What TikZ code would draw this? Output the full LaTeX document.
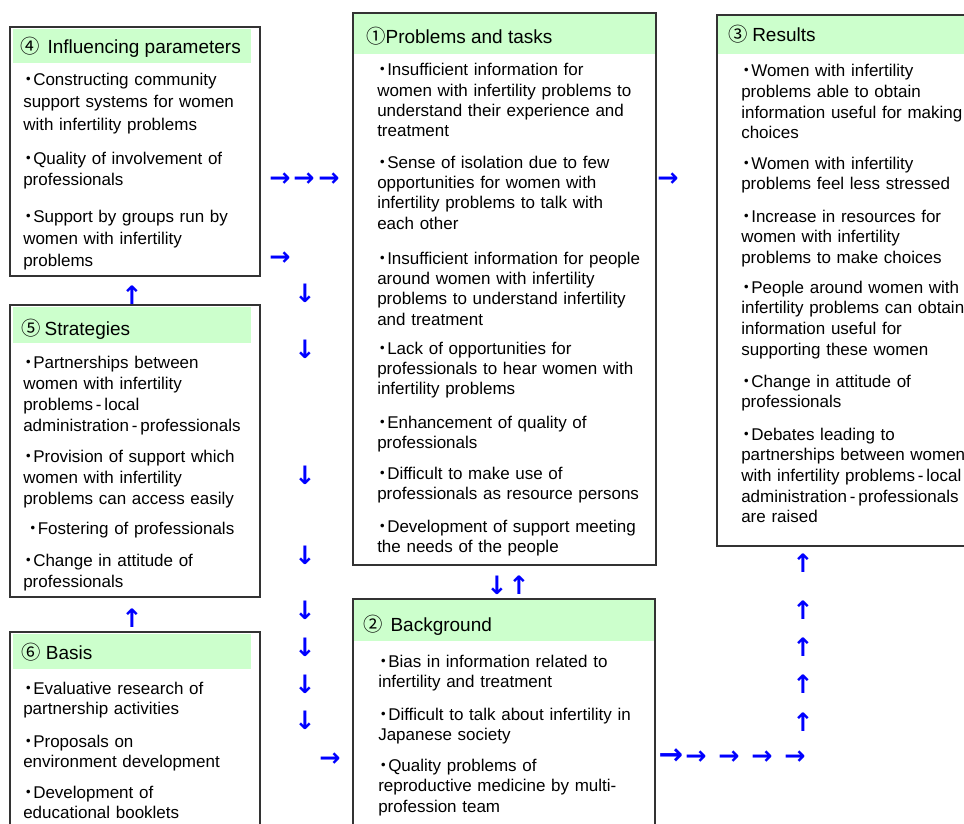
\documentclass[tikz,border=0pt]{standalone}
\usepackage{fontspec}
\setmainfont{Liberation Sans}
\newfontfamily\symfont{DejaVu Sans}
\newfontfamily\cjkfont{Noto Sans CJK JP}
\definecolor{hdrgreen}{HTML}{CCFFCC}
\definecolor{arrblue}{HTML}{0000FF}
\definecolor{frame}{HTML}{333333}
\newcommand\bul{\makebox[7.5pt][c]{\cjkfont ・}}
\newcommand\cn[1]{{\cjkfont\fontsize{14.5pt}{17pt}\selectfont #1}}
\newcommand\vglyph[1]{\makebox[8pt][c]{#1}}
\begin{document}
\begin{tikzpicture}[x=0.75pt,y=-0.75pt,
  boxframe/.style={draw=frame, line width=1.2pt},
  ttl/.style={anchor=base west, inner sep=0pt, font=\fontsize{14.25pt}{17pt}\selectfont},
  bodyA/.style={anchor=base west, inner sep=0pt, text width=260pt, align=left, font=\fontsize{12.75pt}{16.5pt}\selectfont},
  bodyB/.style={anchor=base west, inner sep=0pt, text width=260pt, align=left, font=\fontsize{12.75pt}{15.75pt}\selectfont},
  bodyC/.style={anchor=base west, inner sep=0pt, text width=260pt, align=left, font=\fontsize{12.75pt}{15pt}\selectfont},
  bodyD/.style={anchor=base west, inner sep=0pt, text width=260pt, align=left, font=\fontsize{12.75pt}{15.25pt}\selectfont},
  bodyE/.style={anchor=base west, inner sep=0pt, text width=260pt, align=left, font=\fontsize{12.75pt}{15.4pt}\selectfont},
  bodyF/.style={anchor=base west, inner sep=0pt, text width=260pt, align=left, font=\fontsize{12.75pt}{15.5pt}\selectfont},
  arr/.style={text=arrblue, inner sep=0pt, font=\symfont\bfseries\fontsize{19pt}{19pt}\selectfont},
  bigarr/.style={arr, font=\symfont\bfseries\fontsize{22pt}{22pt}\selectfont}
]
\fill[white] (0,0) rectangle (964,824);
\useasboundingbox (0,0) rectangle (964,824);
\clip (0,0) rectangle (964,824);

% header fills
\fill[hdrgreen] (13,29) rectangle (251,63);
\fill[hdrgreen] (13,307) rectangle (251,343);
\fill[hdrgreen] (13,634) rectangle (251,669);
\fill[hdrgreen] (354,14) rectangle (655,54);
\fill[hdrgreen] (354,600) rectangle (654,641);
\fill[hdrgreen] (718,16) rectangle (990,54);

% frames
\draw[boxframe] (10,27) rectangle (260,276);
\draw[boxframe] (10,305) rectangle (260,597);
\draw[boxframe] (10,632) rectangle (260,850);
\draw[boxframe] (353,13) rectangle (656,565);
\draw[boxframe] (353,599) rectangle (655,850);
\draw[boxframe] (717,15) rectangle (990,546);

% titles
\node[ttl] (t4) at (20,54) {\cn{④}\kern2pt\ Influencing parameters};
\node[ttl] (t5) at (21,335) {\cn{⑤}\kern3pt Strategies};
\node[ttl] (t6) at (21,659) {\cn{⑥}\kern4pt Basis};
\node[ttl] (t1) at (366,44) {\cn{①}Problems and tasks};
\node[ttl] (t2) at (363,631) {\cn{②}\kern2pt\ Background};
\node[ttl] (t3) at (728,42) {\cn{③}\kern3.5pt Results};

% box 4
\node[bodyA] (p4a) at (23,86) {\bul Constructing community\\support systems for women\\with infertility problems};
\node[bodyA] (p4b) at (23,164) {\bul Quality of involvement of\\professionals};
\node[bodyA] (p4c) at (23,222) {\bul Support by groups run by\\women with infertility\\problems};

% box 5
\node[bodyB] (p5a) at (23,368) {\bul Partnerships between\\women with infertility\\problems\,-\,local\\administration\,-\,professionals};
\node[bodyB] (p5b) at (23,462) {\bul Provision of support which\\women with infertility\\problems can access easily};
\node[bodyB] (p5c) at (27.5,534) {\bul Fostering of professionals};
\node[bodyB] (p5d) at (23,566) {\bul Change in attitude of\\professionals};

% box 6
\node[bodyC] (p6a) at (23,694) {\bul Evaluative research of\\partnership activities};
\node[bodyC] (p6b) at (23,747) {\bul Proposals on\\environment development};
\node[bodyC] (p6c) at (23,798) {\bul Development of\\educational booklets};

% box 1
\node[bodyD] (p1a) at (377,76) {\bul Insufficient information for\\women with infertility problems to\\understand their experience and\\treatment};
\node[bodyD] (p1b) at (377,168) {\bul Sense of isolation due to few\\opportunities for women with\\infertility problems to talk with\\each other};
\node[bodyD] (p1c) at (377,264) {\bul Insufficient information for people\\around women with infertility\\problems to understand infertility\\and treatment};
\node[bodyD] (p1d) at (377,354) {\bul Lack of opportunities for\\professionals to hear women with\\infertility problems};
\node[bodyD] (p1e) at (377,428) {\bul Enhancement of quality of\\professionals};
\node[bodyD] (p1f) at (377,479) {\bul Difficult to make use of\\professionals as resource persons};
\node[bodyD] (p1g) at (377,532) {\bul Development of support meeting\\the needs of the people};

% box 2
\node[bodyE] (p2a) at (378,667) {\bul Bias in information related to\\infertility and treatment};
\node[bodyE] (p2b) at (378,720) {\bul Difficult to talk about infertility in\\Japanese society};
\node[bodyE] (p2c) at (378,771) {\bul Quality problems of\\reproductive medicine by multi-\\profession team};

% box 3
\node[bodyF] (p3a) at (741,77) {\bul Women with infertility\\problems able to obtain\\information useful for making\\choices};
\node[bodyF] (p3b) at (741,169) {\bul Women with infertility\\problems feel less stressed};
\node[bodyF] (p3c) at (741,222) {\bul Increase in resources for\\women with infertility\\problems to make choices};
\node[bodyF] (p3d) at (741,293) {\bul People around women with\\infertility problems can obtain\\information useful for\\supporting these women};
\node[bodyF] (p3e) at (741,387) {\bul Change in attitude of\\professionals};
\node[bodyF] (p3f) at (741,440) {\bul Debates leading to\\partnerships between women\\with infertility problems\,-\,local\\administration\,-\,professionals\\are raised};

% arrows (glyphs)
\foreach \x/\y [count=\i] in {280/180, 304/180, 329/180, 280/259, 668/180, 330/760, 696/758, 729/758, 762/758, 795/758}
  \node[arr] (ra\i) at (\x,\y) {→};
\node[bigarr] (rbig) at (671,757) {→};
\foreach \x/\y [count=\i] in {305/293, 305/349, 305/475, 305/555, 305/610, 305/647, 305/684, 305/720, 497/585}
  \node[arr] (da\i) at (\x,\y) {\vglyph{↓}};
\foreach \x/\y [count=\i] in {132/295, 132/618, 519/585, 803/563, 803/610, 803/647, 803/684, 803/722}
  \node[arr] (ua\i) at (\x,\y) {\vglyph{↑}};
\end{tikzpicture}
\end{document}
